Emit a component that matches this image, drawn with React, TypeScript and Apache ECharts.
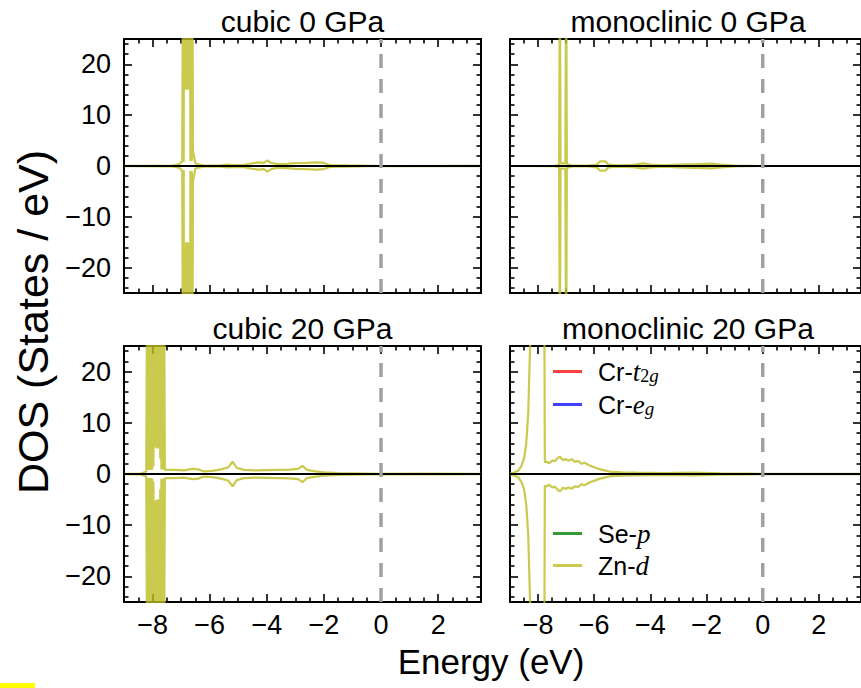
import React, { useEffect, useRef } from "react";
import * as echarts from "echarts";

const X_MIN = -9;
const X_MAX = 3.5;
const Y_MIN = -25;
const Y_MAX = 25;

const xMajorTicks = [-8, -6, -4, -2, 0, 2];
const xMinorTicks = [-8.5, -7.5, -7, -6.5, -5.5, -5, -4.5, -3.5, -3, -2.5, -1.5, -1, -0.5, 0.5, 1, 1.5, 2.5, 3];
const yMajorTicks = [-20, -10, 0, 10, 20];
const yMinorTicks = [-24, -22, -18, -16, -14, -12, -8, -6, -4, -2, 2, 4, 6, 8, 12, 14, 16, 18, 22, 24];

const panelTitles = ["cubic 0 GPa", "monoclinic 0 GPa", "cubic 20 GPa", "monoclinic 20 GPa"];

// Zn-d spin-up DOS [energy (eV), states/eV]; spin-down is drawn as its mirror image
const cubic0ZnUp = [
  [-9, 0.05], [-7.3, 0.1], [-7.05, 0.4], [-6.96, 1], [-6.94, 40], [-6.93, 0.8], [-6.92, 40], [-6.91, 0.8],
  [-6.9, 40], [-6.885, 17], [-6.87, 40], [-6.855, 16], [-6.84, 40], [-6.825, 15], [-6.81, 40], [-6.795, 15],
  [-6.78, 40], [-6.765, 15], [-6.75, 40], [-6.735, 15.5], [-6.72, 40], [-6.705, 16], [-6.69, 40], [-6.675, 1],
  [-6.66, 40], [-6.65, 1], [-6.64, 40], [-6.63, 1], [-6.62, 40], [-6.61, 1.5], [-6.6, 30], [-6.585, 3],
  [-6.5, 0.5], [-6.2, 0.1], [-5.6, 0.15], [-5.4, 0.3], [-5.2, 0.2], [-4.8, 0.25], [-4.55, 0.5], [-4.3, 0.7],
  [-4.1, 0.6], [-3.98, 1.1], [-3.85, 0.6], [-3.6, 0.35], [-3.3, 0.4], [-3.0, 0.55], [-2.6, 0.6], [-2.3, 0.7],
  [-2.0, 0.6], [-1.8, 0.2], [-1.2, 0.12], [-0.4, 0.05], [0, 0], [3.5, 0.02],
];
const mono0ZnUp = [
  [-9, 0], [-7.4, 0.05], [-7.25, 0.3], [-7.225, 40], [-7.2, 0.5], [-7.03, 0.5], [-7.0, 40], [-6.975, 0.4],
  [-6.8, 0.1], [-6.2, 0.1], [-5.9, 0.3], [-5.8, 0.9], [-5.6, 0.9], [-5.5, 0.3], [-5.2, 0.15], [-4.6, 0.25],
  [-4.25, 0.5], [-4.0, 0.3], [-3.5, 0.15], [-3.0, 0.3], [-2.4, 0.35], [-1.8, 0.45], [-1.5, 0.3], [-1.0, 0.1],
  [0, 0], [3.5, 0],
];
const cubic20ZnUp = [
  [-9, 0.05], [-8.4, 0.1], [-8.22, 0.5], [-8.19, 40], [-8.17, 0.8], [-8.15, 40], [-8.13, 0.8], [-8.11, 40],
  [-8.09, 0.8], [-8.07, 40], [-8.05, 0.8], [-8.03, 40], [-8.01, 0.9], [-7.99, 40], [-7.97, 1.5], [-7.95, 40],
  [-7.93, 5.5], [-7.91, 40], [-7.89, 5.2], [-7.87, 40], [-7.85, 5], [-7.83, 40], [-7.81, 5], [-7.79, 40],
  [-7.77, 5.3], [-7.75, 40], [-7.73, 3], [-7.71, 40], [-7.69, 0.9], [-7.67, 40], [-7.65, 0.9], [-7.63, 40],
  [-7.61, 1.0], [-7.59, 30], [-7.57, 0.8], [-7.2, 0.8], [-6.9, 0.7], [-6.6, 1.0], [-6.4, 0.9], [-6.2, 0.5],
  [-5.9, 0.6], [-5.6, 0.9], [-5.35, 1.3], [-5.2, 2.4], [-5.05, 1.2], [-4.8, 0.8], [-4.4, 0.7], [-4.0, 0.75],
  [-3.6, 0.8], [-3.2, 0.85], [-2.9, 1.0], [-2.75, 1.6], [-2.6, 0.8], [-2.3, 0.5], [-2.0, 0.3], [-1.5, 0.2],
  [-1.0, 0.15], [-0.5, 0.1], [0, 0.05], [1.2, 0.1], [3.5, 0.05],
];
const mono20ZnUp = [
  [-9, 0.1], [-8.85, 0.3], [-8.7, 0.7], [-8.6, 1.5], [-8.5, 3], [-8.42, 6], [-8.35, 12], [-8.3, 22],
  [-8.26, 30], [-8.0, 40], [-7.78, 40], [-7.76, 2.3], [-7.69, 2.4], [-7.6, 2.1], [-7.5, 2.6], [-7.4, 2.5],
  [-7.3, 3.1], [-7.22, 3.4], [-7.12, 2.7], [-7.0, 2.9], [-6.93, 2.6], [-6.8, 2.9], [-6.7, 2.4], [-6.57, 2.5],
  [-6.45, 2.0], [-6.35, 2.2], [-6.28, 2.0], [-6.15, 1.6], [-5.99, 1.3], [-5.85, 1.0], [-5.63, 0.7], [-5.4, 0.4],
  [-5.0, 0.3], [-4.5, 0.25], [-3.5, 0.2], [-2.5, 0.25], [-1.5, 0.15], [-0.5, 0.1], [0, 0.05], [3.5, 0.05],
];
const panelZnUp = [cubic0ZnUp, mono0ZnUp, cubic20ZnUp, mono20ZnUp];

const legendNames = ["Cr-t2g", "Cr-eg", "Se-p", "Zn-d"];
const legendColors = ["rgba(255,0,0,0.75)", "rgba(0,0,255,0.75)", "rgba(0,128,0,0.8)", "rgba(188,189,34,0.8)"];
const legendRich = [
  "{a|Cr-}{i|t}{s|2}{si|g}",
  "{a|Cr-}{i|e}{si|g}",
  "{a|Se-}{i|p}",
  "{a|Zn-}{i|d}",
];
const legendCenters = [371, 404, 533, 565];

const FONT = "Liberation Sans";
const OLIVE = "rgba(188,189,34,0.8)";

const grids = [
  { left: 124, top: 39, width: 357, height: 254 },
  { left: 510, top: 39, width: 356, height: 254 },
  { left: 124, top: 346, width: 357, height: 256 },
  { left: 510, top: 346, width: 356, height: 256 },
];

const fmt = (v: number) => (v < 0 ? "\u2212" + Math.abs(v) : String(v));

function buildOption() {
  const xAxis: any[] = [];
  const yAxis: any[] = [];
  const series: any[] = [];
  const graphic: any[] = [];

  grids.forEach((g, i) => {
    const showX = i >= 2;
    const showY = i % 2 === 0;
    const xBase = xAxis.length;
    const yBase = yAxis.length;
    (["bottom", "top"] as const).forEach((pos) => {
      xAxis.push({
        gridIndex: i, type: "value", min: X_MIN, max: X_MAX, position: pos,
        axisLine: { show: true, onZero: false, lineStyle: { color: "#000", width: 2 } },
        axisTick: { show: true, inside: true, length: 8, customValues: xMajorTicks, lineStyle: { color: "#000", width: 1.6 } },
        axisLabel: {
          show: pos === "bottom" && showX, customValues: xMajorTicks, formatter: fmt,
          fontSize: 27, color: "#000", fontFamily: FONT, margin: 9,
        },
        splitLine: { show: false },
      });
      xAxis.push({
        gridIndex: i, type: "value", min: X_MIN, max: X_MAX, position: pos,
        axisLine: { show: false, onZero: false },
        axisTick: { show: true, inside: true, length: 4.5, customValues: xMinorTicks, lineStyle: { color: "#000", width: 1.6 } },
        axisLabel: { show: false },
        splitLine: { show: false },
      });
    });
    (["left", "right"] as const).forEach((pos) => {
      yAxis.push({
        gridIndex: i, type: "value", min: Y_MIN, max: Y_MAX, position: pos,
        axisLine: { show: true, onZero: false, lineStyle: { color: "#000", width: 2 } },
        axisTick: { show: true, inside: true, length: 8, customValues: yMajorTicks, lineStyle: { color: "#000", width: 1.6 } },
        axisLabel: {
          show: pos === "left" && showY, customValues: yMajorTicks, formatter: fmt,
          fontSize: 27, color: "#000", fontFamily: FONT, margin: 13,
        },
        splitLine: { show: false },
      });
      yAxis.push({
        gridIndex: i, type: "value", min: Y_MIN, max: Y_MAX, position: pos,
        axisLine: { show: false, onZero: false },
        axisTick: { show: true, inside: true, length: 4.5, customValues: yMinorTicks, lineStyle: { color: "#000", width: 1.6 } },
        axisLabel: { show: false },
        splitLine: { show: false },
      });
    });

    const up = panelZnUp[i];
    const down = up.map(([x, y]) => [x, -y]);
    const common = { type: "line", xAxisIndex: xBase, yAxisIndex: yBase, showSymbol: false, symbol: "none", clip: true, silent: true };
    series.push({ ...common, name: "Zn-d", data: up, lineStyle: { color: OLIVE, width: 2.2 }, itemStyle: { color: OLIVE }, z: 2 });
    series.push({ ...common, name: "Zn-d", data: down, lineStyle: { color: OLIVE, width: 2.2 }, itemStyle: { color: OLIVE }, z: 2 });
    series.push({ ...common, name: "zero", data: [[X_MIN, 0], [X_MAX, 0]], lineStyle: { color: "#000", width: 2 }, z: 3 });
    series.push({ ...common, name: "fermi", data: [[0, Y_MIN], [0, Y_MAX]], lineStyle: { color: "#a0a0a0", width: 3.5, type: [14, 11] }, z: 4 });
    if (i === 3) {
      legendNames.slice(0, 3).forEach((n, k) => {
        series.push({ ...common, name: n, data: [], lineStyle: { color: legendColors[k], width: 2 }, itemStyle: { color: legendColors[k] } });
      });
    }

    graphic.push({
      type: "text", x: g.left + g.width / 2, y: g.top - 18,
      style: { text: panelTitles[i], fontSize: 30, fontFamily: FONT, fill: "#000", textAlign: "center", textVerticalAlign: "middle", verticalAlign: "middle" },
    });
  });

  graphic.push({
    type: "text", x: 33, y: 322, rotation: Math.PI / 2,
    style: { text: "DOS (States / eV)", fontSize: 43, fontFamily: FONT, fill: "#000", textAlign: "center", textVerticalAlign: "middle", verticalAlign: "middle" },
  });
  graphic.push({
    type: "text", x: 491, y: 661,
    style: { text: "Energy (eV)", fontSize: 35, fontFamily: FONT, fill: "#000", textAlign: "center", textVerticalAlign: "middle", verticalAlign: "middle" },
  });
  graphic.push({ type: "rect", shape: { x: 0, y: 683, width: 35, height: 5 }, style: { fill: "#ffff00" } });

  const rich = {
    a: { fontSize: 25, fontFamily: FONT, color: "#000", lineHeight: 26, padding: [0, 0, 0, 11] },
    i: { fontSize: 27, fontFamily: "Liberation Serif", fontStyle: "italic", color: "#000", lineHeight: 26 },
    s: { fontSize: 18, fontFamily: "Liberation Serif", color: "#000", lineHeight: 8, verticalAlign: "bottom" },
    si: { fontSize: 19, fontFamily: "Liberation Serif", fontStyle: "italic", color: "#000", lineHeight: 8, verticalAlign: "bottom" },
  };

  const legend = legendNames.map((n, k) => ({
    data: [n], left: 553, top: legendCenters[k] - 13, orient: "vertical", padding: 0,
    icon: "rect", itemWidth: 29, itemHeight: 3, selectedMode: false,
    itemStyle: { color: legendColors[k] },
    formatter: () => legendRich[k],
    textStyle: { fontSize: 25, fontFamily: FONT, color: "#000", rich },
  }));

  return {
    animation: false,
    backgroundColor: "#fff",
    grid: grids.map((g) => ({ ...g, containLabel: false })),
    xAxis, yAxis, series, graphic, legend,
  };
}

export default function App() {
  const ref = useRef<HTMLDivElement>(null);
  useEffect(() => {
    if (!ref.current) return;
    const chart = echarts.init(ref.current, undefined, { renderer: "svg" });
    chart.setOption(buildOption() as any);
    return () => chart.dispose();
  }, []);
  return <div ref={ref} style={{ position: "absolute", left: 0, top: 0, width: 861, height: 688 }} />;
}
